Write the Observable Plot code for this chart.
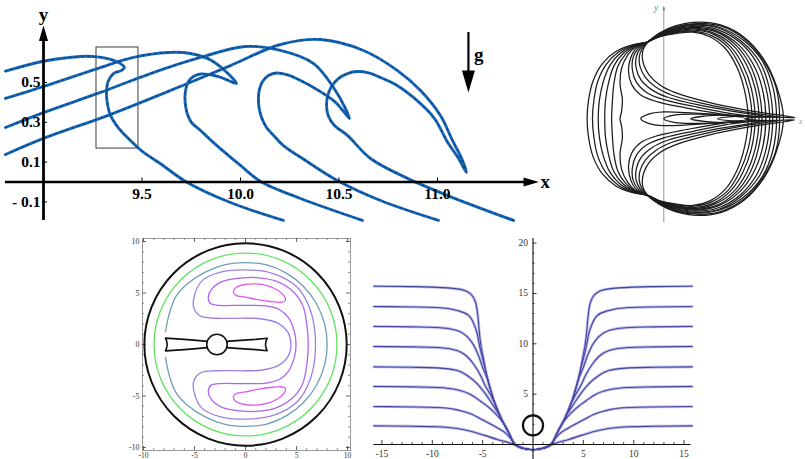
<!DOCTYPE html>
<html><head><meta charset="utf-8">
<script src="https://cdn.jsdelivr.net/npm/d3@7"></script>
<script src="https://cdn.jsdelivr.net/npm/@observablehq/plot@0.6"></script>
<style>
html,body{margin:0;padding:0;background:#fff;}
#fig{position:relative;width:805px;height:459px;overflow:hidden;background:#fff;}
</style></head><body><div id="fig"></div>
<script>
// ================= Panel 1: overturning wave profiles =================
const waveNames = ["A", "B", "C", "D"];
const waveA = [[8.807,0.557],[9.0,0.607],[9.188,0.631],[9.274,0.629],[9.340,0.616],[9.391,0.595],[9.411,0.575],[9.396,0.561],[9.355,0.545],[9.328,0.505],[9.320,0.455],[9.322,0.410],[9.338,0.340],[9.378,0.275],[9.440,0.210],[9.500,0.155],[9.594,0.092],[9.721,0.003],[9.949,-0.103],[10.218,-0.193]];
const waveB = [[8.807,0.420],[9.0,0.480],[9.274,0.570],[9.457,0.626],[9.635,0.651],[9.746,0.646],[9.832,0.621],[9.909,0.570],[9.980,0.495],[9.939,0.510],[9.893,0.528],[9.843,0.540],[9.797,0.543],[9.761,0.530],[9.736,0.505],[9.723,0.470],[9.718,0.430],[9.721,0.384],[9.731,0.339],[9.751,0.299],[9.797,0.259],[9.863,0.198],[10.0,0.083],[10.102,0.003],[10.305,-0.083],[10.619,-0.193]];
const waveC = [[8.807,0.274],[9.0,0.349],[9.289,0.450],[9.543,0.545],[9.797,0.626],[10.025,0.681],[10.203,0.661],[10.371,0.595],[10.472,0.475],[10.533,0.369],[10.553,0.319],[10.528,0.349],[10.477,0.405],[10.396,0.460],[10.305,0.510],[10.239,0.538],[10.183,0.548],[10.142,0.535],[10.112,0.505],[10.096,0.465],[10.091,0.420],[10.094,0.375],[10.107,0.324],[10.132,0.274],[10.173,0.229],[10.218,0.183],[10.330,0.108],[10.482,0.013],[10.711,-0.093],[11.005,-0.193]];
const waveD = [[8.807,0.138],[9.0,0.219],[9.325,0.334],[9.645,0.460],[9.949,0.585],[10.203,0.691],[10.406,0.716],[10.624,0.661],[10.797,0.560],[10.914,0.460],[11.015,0.334],[11.076,0.209],[11.127,0.108],[11.147,0.048],[11.107,0.118],[11.046,0.209],[10.985,0.319],[10.878,0.425],[10.787,0.490],[10.711,0.525],[10.650,0.548],[10.594,0.555],[10.543,0.545],[10.497,0.520],[10.462,0.480],[10.442,0.430],[10.437,0.379],[10.447,0.329],[10.477,0.284],[10.543,0.234],[10.660,0.118],[10.848,0.018],[11.051,-0.068],[11.386,-0.193]];
const waveXTicks = [9.5, 10.0, 10.5, 11.0];
const waveXTickLabels = ["9.5", "10.0", "10.5", "11.0"];
const waveYTicks = [0.5, 0.3, 0.1, -0.1];
const waveYTickLabels = ["0.5", "0.3", "0.1", "- 0.1"];
const zoomBox = [{x1: 9.269, x2: 9.482, y1: 0.168, y2: 0.676}];
const gravityArrow = [{x: 11.157, top: 0.751, tip: 0.450}];

// ================= Panel 2: wavefront family =================
const frontRight = [
 [[-0.21,1.0],[-0.05,1.07],[0.15,1.11],[0.38,1.13],[0.60,1.07],[0.80,0.92],[0.95,0.68],[1.05,0.38],[1.10,0]],
 [[-0.21,1.0],[-0.05,1.075],[0.15,1.12],[0.39,1.14],[0.63,1.08],[0.84,0.93],[0.99,0.69],[1.10,0.39],[1.15,0]],
 [[-0.21,1.0],[-0.05,1.08],[0.15,1.13],[0.40,1.155],[0.65,1.10],[0.87,0.94],[1.03,0.70],[1.14,0.40],[1.19,0]],
 [[-0.21,1.0],[-0.05,1.085],[0.15,1.14],[0.41,1.17],[0.67,1.11],[0.91,0.95],[1.08,0.70],[1.19,0.40],[1.24,0]],
 [[-0.21,1.0],[-0.05,1.09],[0.15,1.15],[0.42,1.18],[0.69,1.13],[0.94,0.96],[1.12,0.71],[1.23,0.40],[1.28,0]],
 [[-0.21,1.0],[-0.05,1.095],[0.15,1.16],[0.42,1.19],[0.70,1.14],[0.97,0.97],[1.16,0.72],[1.28,0.41],[1.33,0]],
 [[-0.21,1.0],[-0.05,1.10],[0.15,1.17],[0.43,1.205],[0.71,1.16],[1.00,0.99],[1.21,0.73],[1.33,0.41],[1.38,0]],
 [[-0.21,1.0],[-0.05,1.105],[0.15,1.18],[0.44,1.22],[0.72,1.18],[1.01,1.01],[1.25,0.74],[1.37,0.42],[1.42,0]],
 [[-0.21,1.0],[-0.05,1.11],[0.15,1.19],[0.44,1.23],[0.73,1.19],[1.03,1.03],[1.28,0.76],[1.42,0.42],[1.47,0]],
 [[-0.21,1.0],[-0.05,1.115],[0.15,1.20],[0.45,1.245],[0.74,1.21],[1.04,1.05],[1.29,0.77],[1.46,0.42],[1.51,0]],
 [[-0.21,1.0],[-0.05,1.12],[0.15,1.21],[0.45,1.26],[0.75,1.22],[1.05,1.06],[1.30,0.78],[1.47,0.42],[1.56,0]]
];
const frontLeft = [
 [[-0.21,1.0],[-0.42,0.96],[-0.62,0.88],[-0.80,0.72],[-0.92,0.50],[-0.98,0.25],[-1.0,0]],
 [[-0.21,1.0],[-0.41,0.955],[-0.59,0.87],[-0.75,0.71],[-0.86,0.49],[-0.91,0.25],[-0.93,0]],
 [[-0.21,1.0],[-0.40,0.95],[-0.56,0.86],[-0.70,0.70],[-0.79,0.48],[-0.84,0.24],[-0.855,0]],
 [[-0.21,1.0],[-0.39,0.945],[-0.53,0.85],[-0.65,0.69],[-0.72,0.47],[-0.76,0.24],[-0.77,0]],
 [[-0.21,1.0],[-0.38,0.94],[-0.50,0.84],[-0.60,0.68],[-0.65,0.46],[-0.67,0.23],[-0.68,0]],
 [[-0.21,1.0],[-0.37,0.935],[-0.47,0.83],[-0.55,0.66],[-0.57,0.45],[-0.54,0.25],[-0.55,0.10],[-0.57,0]],
 [[-0.21,1.0],[-0.35,0.93],[-0.43,0.80],[-0.46,0.62],[-0.42,0.45],[-0.30,0.31],[-0.08,0.22],[0.3,0.14],[0.7,0.07],[1.04,0.02],[0.7,0.055],[0.3,0.08],[0.0,0.09],[-0.2,0.06],[-0.30,0]],
 [[-0.21,1.0],[-0.33,0.92],[-0.40,0.80],[-0.41,0.64],[-0.36,0.48],[-0.22,0.34],[0.0,0.25],[0.4,0.16],[0.8,0.08],[1.22,0.02],[0.85,0.045],[0.45,0.06],[0.15,0.05],[0.0,0]],
 [[-0.21,1.0],[-0.31,0.91],[-0.36,0.80],[-0.36,0.66],[-0.30,0.51],[-0.16,0.38],[0.05,0.28],[0.5,0.17],[0.95,0.09],[1.37,0.02],[1.0,0.04],[0.65,0.045],[0.35,0]],
 [[-0.21,1.0],[-0.29,0.90],[-0.32,0.80],[-0.31,0.68],[-0.24,0.54],[-0.10,0.41],[0.1,0.31],[0.55,0.19],[1.05,0.09],[1.52,0.02],[1.2,0.03],[0.95,0.03],[0.7,0]],
 [[-0.21,1.0],[-0.27,0.90],[-0.28,0.80],[-0.26,0.70],[-0.19,0.57],[-0.05,0.44],[0.15,0.34],[0.6,0.21],[1.15,0.10],[1.71,0.015],[1.35,0.025],[1.05,0]]
];

// ================= Panel 3: contour plot in a disc =================
const discCircles = [{name: "boundary", x: 0, y: 0, r: 9.9}, {name: "green", x: 0, y: 0, r: 8.95}];
const tealUpper = [[-7.84,1.25],[-7.5,2.9],[-6.86,4.6],[-5.7,5.9],[-4.0,7.0],[-2.0,7.75],[0,7.95],[2.0,7.75],[4.0,6.93],[5.66,5.66],[6.93,4.0],[7.75,2.0],[8.0,0]];
const violet1Upper = [[4.45,0],[4.2,1.1],[3.2,2.05],[1.5,2.5],[0,2.55],[-2.8,2.55],[-4.4,2.75],[-5.05,3.5],[-5.05,4.6],[-4.25,6.2],[-2.45,7.02],[0,7.25],[2.78,6.86],[5.07,5.56],[6.37,3.3],[6.86,0]];
const violet2Upper = [[4.95,0],[4.8,1.2],[4.2,2.6],[3.3,3.4],[2.0,3.75],[0,3.8],[-2.6,3.8],[-3.4,3.95],[-3.65,4.6],[-3.3,5.4],[-2.3,6.1],[-0.5,6.45],[1.0,6.5],[3.0,6.15],[4.6,5.2],[5.6,3.8],[6.0,2.0],[6.15,0]];
const magentaBlob = [[-1.2,5.1],[-0.9,5.55],[-0.2,5.8],[1.0,5.88],[2.2,5.7],[3.2,5.25],[3.8,4.7],[3.9,4.25],[3.5,4.1],[2.6,4.15],[1.2,4.35],[0.0,4.6],[-0.9,4.75]];
const leftArm = [[-7.84,0.62],[-6.0,0.5],[-4.8,0.4],[-3.75,0.3],[-3.75,-0.3],[-4.8,-0.4],[-6.0,-0.5],[-7.84,-0.62],[-7.72,-0.3],[-7.68,0],[-7.72,0.3]];
const rightArm = [[2.12,0.6],[1.0,0.5],[-0.5,0.4],[-1.85,0.3],[-1.85,-0.3],[-0.5,-0.4],[1.0,-0.5],[2.12,-0.6],[2.0,-0.3],[1.96,0],[2.0,0.3]];
const hub = [{x: -2.8, y: 0, r: 1.0}];
const frameMajor = [-10, -5, 0, 5, 10];
const frameMinor = [-9,-8,-7,-6,-4,-3,-2,-1,1,2,3,4,6,7,8,9];
const frameLabels = ["-10", "-5", "0", "5", "10"];

// ================= Panel 4: streamlines over a cylinder =================
const streamBottom = [[-2.5,1.35],[-2.1,0.5],[-1.85,0.05],[-1.5,-0.2],[-1.0,-0.38],[-0.5,-0.48],[0,-0.52]];
const streamLeft = [
 [[-15.8,15.72],[-12,15.68],[-9.5,15.6],[-7.2,15.4],[-6.2,14.96],[-5.7,14.1],[-5.5,12.98],[-5.28,10.66],[-4.88,8.34],[-4.55,6.68],[-3.89,4.37],[-3.06,2.38]],
 [[-15.8,13.70],[-12,13.66],[-9.5,13.6],[-7.5,13.3],[-6.37,12.8],[-5.87,11.98],[-5.54,11.0],[-5.28,9.67],[-4.95,8.3],[-4.55,6.68],[-3.89,4.37],[-3.06,2.38]],
 [[-15.8,11.72],[-12,11.68],[-9.5,11.62],[-7.53,11.32],[-6.54,10.72],[-5.87,9.83],[-5.38,8.74],[-4.98,7.6],[-4.55,6.55],[-3.89,4.37],[-3.06,2.38]],
 [[-15.8,9.73],[-12,9.69],[-9.5,9.63],[-7.53,9.33],[-6.54,8.74],[-5.87,7.94],[-5.21,6.85],[-4.7,5.75],[-4.25,5.0],[-3.89,4.3],[-3.06,2.38]],
 [[-15.8,7.71],[-12,7.67],[-9.5,7.61],[-7.53,7.35],[-6.54,6.85],[-5.54,6.03],[-4.72,5.03],[-4.1,4.1],[-3.6,3.35],[-3.06,2.38]],
 [[-15.8,5.76],[-12,5.72],[-9.5,5.66],[-7.53,5.43],[-6.2,4.97],[-5.21,4.3],[-4.22,3.54],[-3.56,2.9],[-3.06,2.3]],
 [[-15.8,3.77],[-12,3.73],[-9.5,3.67],[-7.53,3.44],[-6.2,3.05],[-4.88,2.38],[-3.56,1.66],[-2.56,0.99]],
 [[-15.8,1.85],[-12,1.81],[-9.5,1.76],[-7.53,1.59],[-6.2,1.32],[-4.88,0.93],[-3.56,0.5],[-2.23,0.13]]
];
const streamTail = [
 streamBottom, streamBottom, streamBottom, streamBottom, streamBottom, streamBottom,
 [[-2.1,0.45],[-1.84,0.12],[-1.5,-0.17],[-1.0,-0.37],[-0.5,-0.48],[0,-0.52]],
 [[-1.57,-0.12],[-1.0,-0.35],[-0.5,-0.47],[0,-0.52]]
];
const cylinder = [{x: 0, y: 1.9, r: 1.0}];
const axMajorX = [-15, -10, -5, 5, 10, 15];
const axMajorXLabels = ["-15", "-10", "-5", "5", "10", "15"];
const axMinorX = [-14,-13,-12,-11,-9,-8,-7,-6,-4,-3,-2,-1,1,2,3,4,6,7,8,9,11,12,13,14];
const axMajorY = [5, 10, 15, 20];
const axMajorYLabels = ["5", "10", "15", "20"];
const axMinorY = [1,2,3,4,6,7,8,9,11,12,13,14,16,17,18,19];

// ================= helpers =================
const flip = pts => pts.map(([a, b]) => [a, -b]);
const mirrorX = pts => pts.map(([a, b]) => [-a, b]);
function arrowSymbol(dir, len, half) {
  return {
    draw(ctx, size) {
      const r = Math.sqrt(size / Math.PI), L = len * r, H = half * r;
      if (dir === "right") { ctx.moveTo(0, 0); ctx.lineTo(-L, -H); ctx.lineTo(-L, H); }
      else if (dir === "up") { ctx.moveTo(0, 0); ctx.lineTo(-H, L); ctx.lineTo(H, L); }
      else { ctx.moveTo(0, 0); ctx.lineTo(-H, -L); ctx.lineTo(H, -L); }
      ctx.closePath();
    }
  };
}
const arrowRight = arrowSymbol("right", 2.2, 0.65);
const arrowUp = arrowSymbol("up", 2.2, 0.65);
const arrowDown = arrowSymbol("down", 2.2, 0.65);
const fig = document.getElementById("fig");
function place(svg, left, top) {
  svg.style.position = "absolute";
  svg.style.left = left + "px";
  svg.style.top = top + "px";
  svg.style.background = "transparent";
  svg.style.overflow = "visible";
  fig.appendChild(svg);
}
const serif = "Liberation Serif, Times New Roman, serif";

// ----- Panel 1 -----
const waveRows = [waveA, waveB, waveC, waveD].flatMap((pts, i) => pts.map(([x, y]) => ({wave: waveNames[i], x, y})));
const p1 = Plot.plot({
  width: 560, height: 230, margin: 0,
  x: {domain: [8.7817, 11.6244], axis: null},
  y: {domain: [-0.2437, 0.9121], axis: null},
  marks: [
    Plot.rect(zoomBox, {x1: "x1", x2: "x2", y1: "y1", y2: "y2", fill: "none", stroke: "#3c3c3c", strokeWidth: 1}),
    Plot.line(waveRows, {x: "x", y: "y", z: "wave", stroke: "#1464b5", strokeWidth: 2.9, curve: "catmull-rom", strokeLinejoin: "round"}),
    Plot.line(waveRows, {x: "x", y: "y", z: "wave", stroke: "#0b2748", strokeWidth: 0.9, strokeDasharray: "1 5", curve: "catmull-rom"}),
    Plot.ruleY([0], {x1: 8.807, x2: 11.45, stroke: "black", strokeWidth: 2.6}),
    Plot.ruleX([9.0], {y1: -0.193, y2: 0.72, stroke: "black", strokeWidth: 2.8}),
    Plot.dot([{x: 11.515, y: 0}], {x: "x", y: "y", symbol: arrowRight, r: 7, fill: "black", stroke: "none"}),
    Plot.dot([{x: 9.0, y: 0.786}], {x: "x", y: "y", symbol: arrowUp, r: 7, fill: "black", stroke: "none"}),
    Plot.ruleX(gravityArrow, {x: "x", y1: "top", y2: d => d.tip + 0.07, stroke: "black", strokeWidth: 2.2}),
    Plot.dot(gravityArrow, {x: "x", y: "tip", symbol: arrowDown, r: 10, fill: "black", stroke: "none"}),
    Plot.ruleX(waveXTicks, {x: d => d, y1: 0, y2: 0, insetTop: -4, insetBottom: 0, stroke: "black", strokeWidth: 1}),
    Plot.ruleY(waveYTicks, {y: d => d, x1: 9.0, x2: 9.0, insetRight: -4, insetLeft: 0, stroke: "black", strokeWidth: 1}),
    Plot.text(waveXTicks, {x: d => d, y: 0, dy: 12, text: (d, i) => waveXTickLabels[i], fontFamily: serif, fontWeight: "bold", fontSize: 15.5, fill: "black"}),
    Plot.text(waveYTicks, {x: 9.0, y: d => d, dx: -3, textAnchor: "end", text: (d, i) => waveYTickLabels[i], fontFamily: serif, fontWeight: "bold", fontSize: 15.5, fill: "black"}),
    Plot.text(["x"], {x: 11.523, y: 0, textAnchor: "start", text: d => d, fontFamily: serif, fontWeight: "bold", fontSize: 19}),
    Plot.text(["y"], {x: 9.0, y: 0.842, text: d => d, fontFamily: serif, fontWeight: "bold", fontSize: 19}),
    Plot.text(["g"], {x: 11.21, y: 0.64, text: d => d, fontFamily: serif, fontWeight: "bold", fontSize: 19})
  ]
});
place(p1, 0, 0);

// ----- Panel 2 -----
const frontRows = frontRight.flatMap((right, k) => {
  const left = frontLeft[k];
  const pts = [
    ...right,
    ...flip(right).slice(0, -1).reverse(),
    ...flip(left).slice(1),
    ...left.slice(0, -1).reverse()
  ];
  return pts.map(([u, v]) => ({k, u, v}));
});
const p2 = Plot.plot({
  width: 230, height: 230, margin: 0,
  x: {domain: [-1.151, 1.847], axis: null},
  y: {domain: [-1.457, 1.542], axis: null},
  marks: [
    Plot.ruleX([0], {y1: -1.356, y2: 1.45, stroke: "#8a8a8a", strokeWidth: 0.9}),
    Plot.dot([{u: 0, v: 1.477}], {x: "u", y: "v", symbol: arrowUp, r: 2.2, fill: "#8a8a8a", stroke: "none"}),
    Plot.line(frontRows, {x: "u", y: "v", z: "k", stroke: "#1c1c1c", strokeWidth: 1.25, curve: "catmull-rom", strokeLinejoin: "round"}),
    Plot.text(["y"], {x: -0.10, y: 1.446, text: d => d, fontFamily: serif, fontStyle: "italic", fontSize: 10, fill: "#888"}),
    Plot.text(["x"], {x: 1.76, y: -0.03, textAnchor: "start", text: d => d, fontFamily: serif, fontStyle: "italic", fontSize: 8, fill: "#999"})
  ]
});
place(p2, 575, 0);

// ----- Panel 3 -----
const closeMirror = upper => [...upper, ...flip(upper).reverse().slice(1, -1)];
const tealPts = [...tealUpper, ...flip(tealUpper).slice(0, -1).reverse()];
const shapeRows = (pts, id) => pts.map(([x, y]) => ({id, x, y}));
const xmin3 = -10.1, xmax3 = 10.29, ymin3 = -10.29, ymax3 = 10.29;
const p3 = Plot.plot({
  width: 250, height: 229,
  marginLeft: 30, marginRight: 12, marginTop: 8, marginBottom: 9,
  x: {domain: [xmin3, xmax3], axis: null},
  y: {domain: [ymin3, ymax3], axis: null},
  r: {type: "linear", domain: [0, 10], range: [0, 102.2]},
  marks: [
    Plot.frame({stroke: "#9a9a9a", strokeWidth: 1}),
    Plot.ruleX(frameMinor, {x: d => d, y1: ymin3, y2: ymin3, insetTop: -2, insetBottom: 0, stroke: "#777", strokeWidth: 0.8}),
    Plot.ruleX(frameMajor, {x: d => d, y1: ymin3, y2: ymin3, insetTop: -4, insetBottom: 0, stroke: "#555", strokeWidth: 0.9}),
    Plot.ruleX(frameMinor, {x: d => d, y1: ymax3, y2: ymax3, insetTop: 0, insetBottom: -2, stroke: "#777", strokeWidth: 0.8}),
    Plot.ruleX(frameMajor, {x: d => d, y1: ymax3, y2: ymax3, insetTop: 0, insetBottom: -4, stroke: "#555", strokeWidth: 0.9}),
    Plot.ruleY(frameMinor, {y: d => d, x1: xmin3, x2: xmin3, insetLeft: 0, insetRight: -2, stroke: "#777", strokeWidth: 0.8}),
    Plot.ruleY(frameMajor, {y: d => d, x1: xmin3, x2: xmin3, insetLeft: 0, insetRight: -4, stroke: "#555", strokeWidth: 0.9}),
    Plot.ruleY(frameMinor, {y: d => d, x1: xmax3, x2: xmax3, insetLeft: -2, insetRight: 0, stroke: "#777", strokeWidth: 0.8}),
    Plot.ruleY(frameMajor, {y: d => d, x1: xmax3, x2: xmax3, insetLeft: -4, insetRight: 0, stroke: "#555", strokeWidth: 0.9}),
    Plot.text(frameMajor, {x: d => d, y: ymin3, dy: 5, text: (d, i) => frameLabels[i], fontFamily: serif, fontSize: 7.5, fill: "#333"}),
    Plot.text(frameMajor, {x: xmin3, y: d => d, dx: -3, textAnchor: "end", text: (d, i) => frameLabels[i], fontFamily: serif, fontSize: 8, fill: "#333"}),
    Plot.dot(discCircles.filter(d => d.name === "boundary"), {x: "x", y: "y", r: d => d.r, fill: "none", stroke: "#111", strokeWidth: 2}),
    Plot.dot(discCircles.filter(d => d.name === "green"), {x: "x", y: "y", r: d => d.r, fill: "none", stroke: "#5fe35f", strokeWidth: 1.3}),
    Plot.line(shapeRows(tealPts, "teal"), {x: "x", y: "y", stroke: "#6f9db6", strokeWidth: 1.3, curve: "catmull-rom"}),
    Plot.line(shapeRows(closeMirror(violet1Upper), "v1"), {x: "x", y: "y", stroke: "#9b80e6", strokeWidth: 1.3, curve: "catmull-rom-closed"}),
    Plot.line(shapeRows(closeMirror(violet2Upper), "v2"), {x: "x", y: "y", stroke: "#b064ee", strokeWidth: 1.3, curve: "catmull-rom-closed"}),
    Plot.line(shapeRows(magentaBlob, "m1"), {x: "x", y: "y", stroke: "#e05cf0", strokeWidth: 1.3, curve: "catmull-rom-closed"}),
    Plot.line(shapeRows(flip(magentaBlob), "m2"), {x: "x", y: "y", stroke: "#e05cf0", strokeWidth: 1.3, curve: "catmull-rom-closed"}),
    Plot.line(shapeRows(leftArm, "la"), {x: "x", y: "y", stroke: "#111", strokeWidth: 1.6, fill: "white", curve: "linear-closed"}),
    Plot.line(shapeRows(rightArm, "ra"), {x: "x", y: "y", stroke: "#111", strokeWidth: 1.6, fill: "white", curve: "linear-closed"}),
    Plot.dot(hub, {x: "x", y: "y", r: d => d.r, fill: "white", stroke: "#111", strokeWidth: 1.6})
  ]
});
place(p3, 112, 230);

// ----- Panel 4 -----
const streamRows = streamLeft.flatMap((pts, k) => {
  const half = [...pts, ...streamTail[k]];
  const full = [...half, ...mirrorX(half.slice(0, -1)).reverse()];
  return full.map(([x, y]) => ({k, x, y}));
});
const p4 = Plot.plot({
  width: 445, height: 229, margin: 0,
  x: {domain: [-17.13, 27.06], axis: null},
  y: {domain: [-1.49, 21.25], axis: null},
  r: {type: "linear", domain: [0, 1], range: [0, 10.07]},
  marks: [
    Plot.line(streamRows, {x: "x", y: "y", z: "k", stroke: "#bcbce6", strokeWidth: 2.8, curve: "monotone-x"}),
    Plot.line(streamRows, {x: "x", y: "y", z: "k", stroke: "#4646a6", strokeWidth: 1.1, curve: "monotone-x"}),
    Plot.ruleY([0], {x1: -15.8, x2: 15.7, stroke: "#111", strokeWidth: 1.1}),
    Plot.ruleX([0], {y1: -1.5, y2: 20.45, stroke: "#111", strokeWidth: 1.1}),
    Plot.ruleX(axMinorX, {x: d => d, y1: 0, y2: 0, insetTop: -2, insetBottom: 0, stroke: "#222", strokeWidth: 0.8}),
    Plot.ruleX(axMajorX, {x: d => d, y1: 0, y2: 0, insetTop: -4, insetBottom: 0, stroke: "#222", strokeWidth: 0.9}),
    Plot.ruleY(axMinorY, {y: d => d, x1: 0, x2: 0, insetLeft: 0, insetRight: -2, stroke: "#222", strokeWidth: 0.8}),
    Plot.ruleY(axMajorY, {y: d => d, x1: 0, x2: 0, insetLeft: 0, insetRight: -4, stroke: "#222", strokeWidth: 0.9}),
    Plot.text(axMajorX, {x: d => d, y: 0, dy: 9, text: (d, i) => axMajorXLabels[i], fontFamily: serif, fontSize: 9.5, fill: "#333"}),
    Plot.text(axMajorY, {x: 0, y: d => d, dx: -5, textAnchor: "end", text: (d, i) => axMajorYLabels[i], fontFamily: serif, fontSize: 9.5, fill: "#333"}),
    Plot.dot(cylinder, {x: "x", y: "y", r: d => d.r, fill: "none", stroke: "#111", strokeWidth: 2.2})
  ]
});
place(p4, 360, 230);
</script></body></html>
